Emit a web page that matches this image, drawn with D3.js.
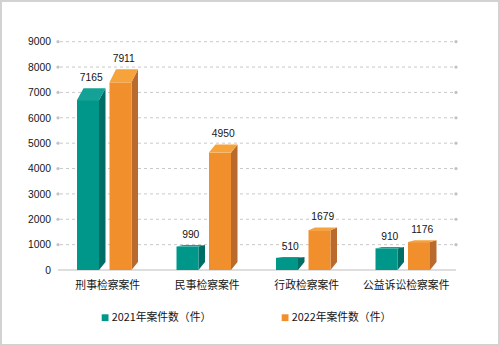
<!DOCTYPE html>
<html>
<head>
<meta charset="utf-8">
<script src="https://cdn.jsdelivr.net/npm/d3@7/dist/d3.min.js"></script>
<style>
  html, body { margin: 0; padding: 0; background: #fff; }
  svg { display: block; }
</style>
</head>
<body>
<svg id="chart"></svg>
<script>
// case counts per procuratorate category
const categories = ["刑事检察案件", "民事检察案件", "行政检察案件", "公益诉讼检察案件"];
const seriesNames = ["2021年案件数（件）", "2022年案件数（件）"];
const cases2021 = [7165, 990, 510, 910];
const cases2022 = [7911, 4950, 1679, 1176];
const yTicks = [0, 1000, 2000, 3000, 4000, 5000, 6000, 7000, 8000, 9000];

const seriesValues = [cases2021, cases2022];

// face colours for the 3D columns: front, top, side
const faces = [
    { front: "#00978b", top: "#14a296", side: "#006e65" },
    { front: "#f18f2c", top: "#f5a33a", side: "#ba6a2d" }
];

const width = 500, height = 346;
const plot = { left: 58, right: 456, top: 41.7, bottom: 270 };
const depthX = 6.5;       // horizontal offset of the back face
const depthBottom = 8;    // rise of the side face at the floor

const svg = d3.select("#chart")
    .attr("width", width)
    .attr("height", height);

// frame
svg.append("rect")
    .attr("x", 1).attr("y", 1)
    .attr("width", width - 2).attr("height", height - 2)
    .attr("fill", "#fff")
    .attr("stroke", "#d2d2d2")
    .attr("stroke-width", 2);

// back wall scale (gridlines, bar tops) and front plane scale (front faces)
const yBack = d3.scaleLinear()
    .domain([0, 9000])
    .range([plot.bottom, plot.top]);

const yFront = d3.scaleLinear()
    .domain([0, 9000])
    .range([plot.bottom, plot.bottom - 0.935 * (plot.bottom - plot.top)]);

const x0 = d3.scaleBand()
    .domain(categories)
    .range([plot.left, plot.right])
    .padding(0);

const x1 = d3.scaleBand()
    .domain(d3.range(seriesNames.length))
    .range([19, 73.5])
    .paddingInner(0.323);

// dashed gridlines with end dots
const gridTicks = yTicks.filter(d => d > 0);
const grid = svg.append("g");
grid.selectAll("line.grid")
    .data(gridTicks)
    .enter()
    .append("line")
    .attr("class", "grid")
    .attr("x1", plot.left + 2)
    .attr("x2", plot.right - 1)
    .attr("y1", d => yBack(d))
    .attr("y2", d => yBack(d))
    .attr("stroke", "#c9c9c9")
    .attr("stroke-width", 1)
    .attr("stroke-dasharray", "3,3");

[plot.left, plot.right].forEach(cx => {
    grid.selectAll(null)
        .data(gridTicks)
        .enter()
        .append("circle")
        .attr("cx", cx)
        .attr("cy", d => yBack(d))
        .attr("r", 1.6)
        .attr("fill", "#c2c2c2");
});

// floor line
svg.append("line")
    .attr("x1", plot.left)
    .attr("x2", plot.right)
    .attr("y1", yBack(0))
    .attr("y2", yBack(0))
    .attr("stroke", "#bdbdbd")
    .attr("stroke-width", 1.2);

// value axis labels
const yAxis = d3.axisLeft(yBack)
    .tickValues(yTicks)
    .tickSize(0)
    .tickPadding(7)
    .tickFormat(d3.format("d"));

svg.append("g")
    .attr("transform", `translate(${plot.left}, 0)`)
    .call(yAxis)
    .call(g => g.select(".domain").remove())
    .selectAll("text")
    .attr("font-family", "'Liberation Sans', Arial, sans-serif")
    .attr("font-size", "10.3px")
    .attr("fill", "#151515");

// category labels
const xAxis = d3.axisBottom(x0).tickSize(0);

svg.append("g")
    .attr("transform", `translate(0, ${plot.bottom})`)
    .call(xAxis)
    .call(g => g.select(".domain").remove())
    .selectAll("text")
    .attr("y", 15)
    .attr("dy", "0.35em")
    .attr("font-family", "'Noto Sans CJK SC', sans-serif")
    .attr("font-size", "10.8px")
    .attr("fill", "#151515");

// one record per column
const bars = [];
categories.forEach((c, i) => {
    seriesValues.forEach((vals, s) => {
        bars.push({ category: c, series: s, value: vals[i] });
    });
});

const barG = svg.append("g");
const w = x1.bandwidth();

bars.forEach(d => {
    const xl = x0(d.category) + x1(d.series);
    const xr = xl + w;
    const yf = yFront(d.value);
    const yb = yBack(d.value);
    const y0 = yBack(0);
    const col = faces[d.series];

    // side face
    barG.append("polygon")
        .attr("points", [[xr, yf], [xr + depthX, yb], [xr + depthX, y0 - depthBottom], [xr, y0]].join(" "))
        .attr("fill", col.side);

    // front face
    barG.append("rect")
        .attr("x", xl)
        .attr("y", yf)
        .attr("width", w)
        .attr("height", y0 - yf)
        .attr("fill", col.front);

    // top face
    barG.append("polygon")
        .attr("points", [[xl, yf], [xl + depthX, yb], [xr + depthX, yb], [xr, yf]].join(" "))
        .attr("fill", col.top);

    // value label
    barG.append("text")
        .attr("x", xl + w / 2 + depthX / 2)
        .attr("y", yb - 7)
        .attr("text-anchor", "middle")
        .attr("font-family", "'Liberation Sans', Arial, sans-serif")
        .attr("font-size", "10.3px")
        .attr("fill", "#151515")
        .text(d.value);
});

// legend
const legendX = [101.7, 281.7];
const legend = svg.append("g");
seriesNames.forEach((name, s) => {
    legend.append("rect")
        .attr("x", legendX[s])
        .attr("y", 314.3)
        .attr("width", 6.8)
        .attr("height", 6.8)
        .attr("fill", faces[s].front);
    legend.append("text")
        .attr("x", legendX[s] + 10)
        .attr("y", 317.7)
        .attr("dy", "0.35em")
        .attr("font-family", "'Noto Sans CJK SC', sans-serif")
        .attr("font-size", "10.8px")
        .attr("fill", "#151515")
        .text(name);
});
</script>
</body>
</html>
